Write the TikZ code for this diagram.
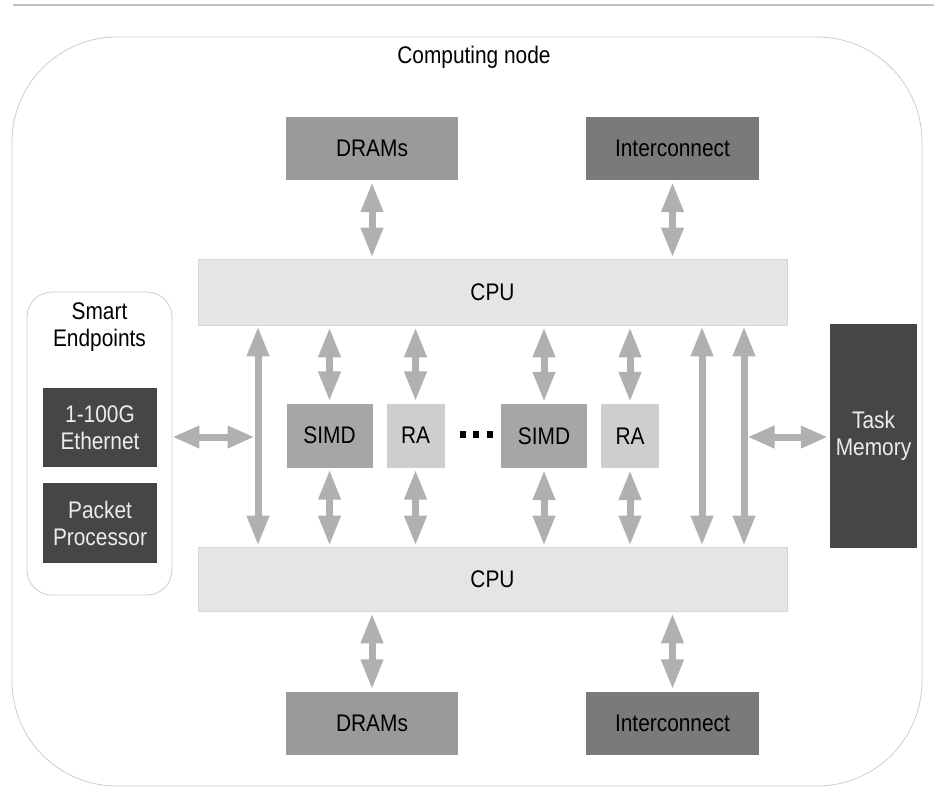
\documentclass[tikz,border=0pt]{standalone}
\usepackage{fontspec}
\setmainfont{Liberation Sans}[FakeStretch=0.87]
\usetikzlibrary{arrows.meta}

\definecolor{framegray}{RGB}{205,205,205}
\definecolor{rulegray}{RGB}{192,192,192}
\definecolor{arrowgray}{RGB}{176,176,176}
\definecolor{dramfill}{RGB}{154,154,154}
\definecolor{icfill}{RGB}{122,122,122}
\definecolor{cpufill}{RGB}{229,229,229}
\definecolor{cpuedge}{RGB}{214,214,214}
\definecolor{simdfill}{RGB}{166,166,166}
\definecolor{rafill}{RGB}{206,206,206}
\definecolor{darkfill}{RGB}{70,70,70}
\definecolor{lighttext}{RGB}{236,236,236}

\tikzset{
  x=1pt, y=-1pt,
  lbl/.style={font=\fontsize{24}{27}\selectfont, align=center, inner sep=0pt},
  blk/.style={lbl, rectangle, minimum width=#1, draw=none},
  dramblk/.style={blk=172pt, minimum height=63pt, fill=dramfill, text=black},
  icblk/.style={blk=173pt, minimum height=63pt, fill=icfill, text=black},
  cpublk/.style={blk=589pt, fill=cpufill, draw=cpuedge, line width=0.8pt, text=black},
  simdblk/.style={blk=86pt, minimum height=64pt, fill=simdfill, text=black},
  rablk/.style={blk=58pt, minimum height=64pt, fill=rafill, text=black},
  darkblk/.style={blk=#1, fill=darkfill, text=lighttext},
  dbl/.style={draw=arrowgray, line width=7pt,
    {Triangle[width=21pt,length=30pt]}-{Triangle[width=21pt,length=30pt]},
    fill=arrowgray},
  dblh/.style={dbl, {Triangle[width=21pt,length=27pt]}-{Triangle[width=21pt,length=27pt]}},
  dotsq/.style={rectangle, fill=black, minimum width=6pt, minimum height=7pt, inner sep=0pt}
}

\begin{document}
\begin{tikzpicture}
  \useasboundingbox (0,0) rectangle (934,787);

  % thin rule along the top
  \draw[rulegray, line width=1.5pt] (13,5) -- (934,5);

  % outer frame of the computing node
  \draw[framegray, line width=0.8pt, rounded corners=105pt] (12,37) rectangle (922,786);
  \node[lbl] (title) at (474,57) {Computing node};

  % memory and network blocks, top and bottom
  \node[dramblk] (dramT) at (372,148.5) {DRAMs};
  \node[icblk]   (icT)   at (672.5,148.5) {Interconnect};
  \node[dramblk] (dramB) at (372,723) {DRAMs};
  \node[icblk]   (icB)   at (672.5,723) {Interconnect};

  % the two CPUs
  \node[cpublk, minimum height=66pt] (cpuT) at (492.5,292) {CPU};
  \node[cpublk, minimum height=64pt] (cpuB) at (492.5,579) {CPU};

  % accelerators between the CPUs
  \node[simdblk] (simd1) at (329.5,435.5) {SIMD};
  \node[rablk]   (ra1)   at (415.5,435.5) {RA};
  \node[simdblk] (simd2) at (544,436) {SIMD};
  \node[rablk]   (ra2)   at (630,436) {RA};
  \node[dotsq] (d1) at (463,434.5) {};
  \node[dotsq] (d2) at (476,434.5) {};
  \node[dotsq] (d3) at (490,434.5) {};

  % smart endpoints group
  \node[draw=framegray, line width=0.8pt, rounded corners=25pt,
        minimum width=145pt, minimum height=303pt] (se) at (99.5,443.5) {};
  \node[lbl] (setitle) at (99.5,327) {Smart\\Endpoints};
  \node[darkblk=114pt, minimum height=79pt] (eth) at (100,427.5) {1-100G\\Ethernet};
  \node[darkblk=114pt, minimum height=80pt] (pp)  at (100,523) {Packet\\Processor};

  % task memory
  \node[darkblk=87pt, minimum height=224pt] (tm) at (873.5,436) {Task\\Memory};

  % positions of the long vertical links
  \coordinate (busL)  at (258,437);
  \coordinate (busR1) at (702,437);
  \coordinate (busR2) at (744,437);

  % CPU to memory / interconnect
  \draw[dbl, shorten <=2pt, shorten >=1pt] (dramT.south) -- (dramT.south |- cpuT.north);
  \draw[dbl, shorten <=2pt, shorten >=1pt] (icT.south) -- (icT.south |- cpuT.north);
  \draw[dbl, shorten <=2pt, shorten >=2pt] (dramB.north |- cpuB.south) -- (dramB.north);
  \draw[dbl, shorten <=2pt, shorten >=2pt] (icB.north |- cpuB.south) -- (icB.north);

  % CPU to accelerators
  \foreach \n in {simd1,ra1,simd2,ra2}{
    \draw[dbl, shorten <=2pt, shorten >=2pt] (\n.north |- cpuT.south) -- (\n.north);
    \draw[dbl, shorten <=2pt, shorten >=1pt] (\n.south) -- (\n.south |- cpuB.north);
  }

  % long links between the two CPUs
  \foreach \c in {busL,busR1,busR2}{
    \draw[dbl, shorten <=1pt, shorten >=1pt] (cpuT.south -| \c) -- (cpuB.north -| \c);
  }

  % side links to the endpoints and task memory
  \draw[dblh, shorten >=3.5pt] (se.east |- busL) -- (busL);
  \draw[dblh, shorten <=3.5pt, shorten >=2pt] (busR2) -- (tm.west |- busR2);
\end{tikzpicture}
\end{document}
